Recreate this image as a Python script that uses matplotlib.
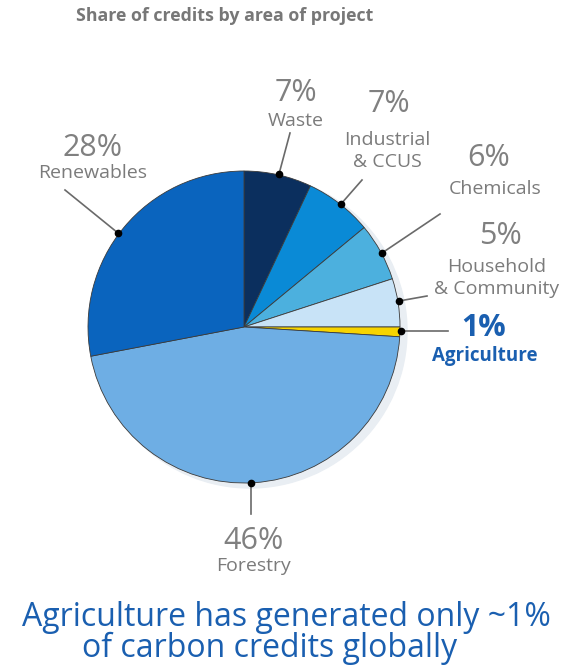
#! /usr/bin/env python3
# Share of carbon credits by project area - pie with leader labels

import matplotlib
matplotlib.use("Agg")
import matplotlib.pyplot as plt
from matplotlib.patches import Circle

#########################################################
# Data
#########################################################
areas = ["Waste", "Industrial\n& CCUS", "Chemicals", "Household\n& Community",
         "Agriculture", "Forestry", "Renewables"]
shares = [7, 7, 6, 5, 1, 46, 28]
colors = ["#0b2f5e", "#0a8ad6", "#4cb0de", "#c8e3f7", "#f7d400", "#6eaee4", "#0a64be"]

W, H = 567, 668
GRAY = "#7b7b7b"
BLUE = "#1a5fb0"
FONT = "Open Sans"

def Y(y):
    # pixel row -> data y
    return H - y

fig = plt.figure(figsize=(W / 100, H / 100), dpi=100)
ax = fig.add_axes([0, 0, 1, 1])

cx, cy, r = 244, 327, 156

# soft shadow behind the pie
ax.add_patch(Circle((cx + 6, Y(cy + 4)), r + 1, color="#e9eef3", zorder=0))

ax.pie(shares, colors=colors, startangle=90, counterclock=False,
       center=(cx, Y(cy)), radius=r, frame=True,
       wedgeprops=dict(edgecolor="#3a3a3a", linewidth=0.6))
ax.set_xlim(0, W)
ax.set_ylim(0, H)
ax.set_aspect("equal")
ax.axis("off")

# leader lines: (dot x, dot y, end x, end y) in pixels
leaders = [(279, 174, 290, 133), (341, 204, 362, 180), (382, 253, 440, 214),
           (399, 301, 427, 296), (401, 331, 448, 331), (251, 483, 251, 514),
           (118, 233, 65, 190)]
for x0, y0, x1, y1 in leaders:
    ax.plot([x0, x1], [Y(y0), Y(y1)], color="#6a6a6a", lw=1.2, zorder=3)
    ax.plot(x0, Y(y0), "o", color="black", ms=4.5, zorder=4)

# labels: pct position, name position
pct_pos = [(296, 93), (389, 104), (489, 158), (500, 236), (484, 328), (253, 541), (93, 148)]
name_pos = [(296, 121), (387, 151), (495, 189), (497, 278), (485, 356), (254, 566), (93, 173)]

for i, area in enumerate(areas):
    if area == "Agriculture":
        ax.text(pct_pos[i][0], Y(pct_pos[i][1]), "%d%%" % shares[i], ha="center", va="center",
                fontsize=22, fontweight="bold", color=BLUE, family=FONT)
        ax.text(name_pos[i][0], Y(name_pos[i][1]), area, ha="center", va="center",
                fontsize=13.5, fontweight="bold", color=BLUE, family=FONT)
    else:
        ax.text(pct_pos[i][0], Y(pct_pos[i][1]), "%d%%" % shares[i], ha="center", va="center",
                fontsize=22, fontweight="normal", color="#808080", family=FONT)
        ax.text(name_pos[i][0], Y(name_pos[i][1]), area, ha="center", va="center",
                fontsize=14, color=GRAY, family=FONT, linespacing=1.3)

ax.text(225, Y(16), "Share of credits by area of project", ha="center", va="center",
        fontsize=12.8, fontweight="bold", color="#777777", family=FONT)

ax.text(286, Y(617), "Agriculture has generated only ~1%", ha="center", va="center",
        fontsize=23, color=BLUE, family=FONT)
ax.text(270, Y(648), "of carbon credits globally", ha="center", va="center",
        fontsize=23, color=BLUE, family=FONT)

fig.savefig("out.png", dpi=100)
